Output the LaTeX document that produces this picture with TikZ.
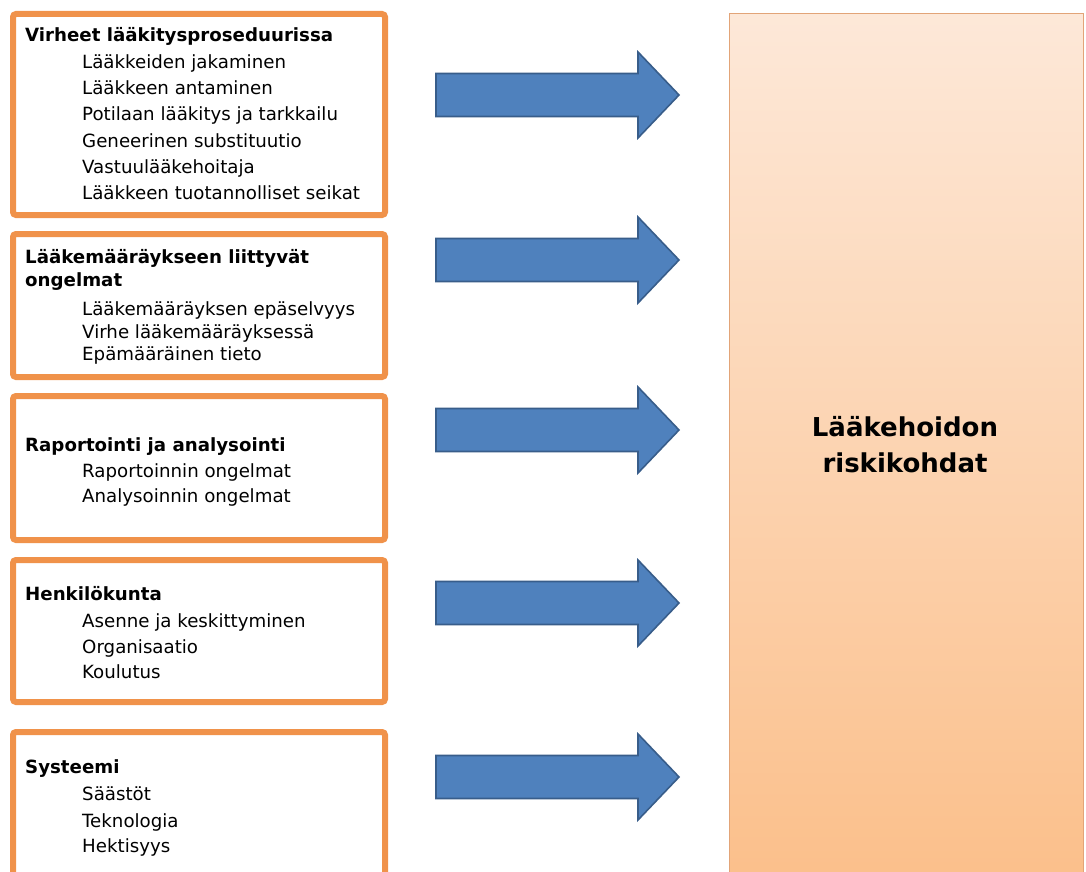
\documentclass[tikz,border=0pt]{standalone}
\usepackage{fontspec}
\setmainfont{DejaVu Sans}
\begin{document}
\begin{tikzpicture}[x=1pt,y=-1pt,
  catbox/.style={draw=boxorange,line width=6pt,rounded corners=3pt,fill=white,inner sep=0pt,minimum width=372pt},
  title/.style={anchor=base west,inner sep=0pt,font=\fontsize{18.2}{22}\selectfont\bfseries},
  item/.style={anchor=base west,inner sep=0pt,font=\fontsize{18.2}{22}\selectfont},
  blockarrow/.style={fill=arrowblue,draw=arrowedge,line width=1.6pt,line join=miter},
  bigtext/.style={align=center,inner sep=0pt,font=\fontsize{26}{36}\selectfont\bfseries}
]
\definecolor{boxorange}{HTML}{F0924A}
\definecolor{arrowblue}{HTML}{4F81BD}
\definecolor{arrowedge}{HTML}{385D8A}
\definecolor{peachtop}{HTML}{FDE8D8}
\definecolor{peachbot}{HTML}{FBBF8A}
\definecolor{peachedge}{HTML}{E2A478}
\useasboundingbox (0,0) rectangle (1086,872);
\clip (0,0) rectangle (1086,872);
\fill[white] (0,0) rectangle (1086,872);

% right target box
\shade[top color=peachtop,bottom color=peachbot,draw=peachedge,line width=1pt]
  (729,14) rectangle (1083,890);
\node[bigtext] (target) at (905,445) {Lääkehoidon\\riskikohdat};

% category boxes
\node[catbox,minimum height=201pt] (b1) at (199,114.5) {};
\node[catbox,minimum height=143pt] (b2) at (199,305.5) {};
\node[catbox,minimum height=144pt] (b3) at (199,468) {};
\node[catbox,minimum height=142pt] (b4) at (199,631) {};
\node[catbox,minimum height=150pt] (b5) at (199,807) {};

% box 1
\node[title] (t1) at (25,42) {Virheet lääkitysproseduurissa};
\node[item] (i11) at (82,69) {Lääkkeiden jakaminen};
\node[item] (i12) at (82,95) {Lääkkeen antaminen};
\node[item] (i13) at (82,121) {Potilaan lääkitys ja tarkkailu};
\node[item] (i14) at (82,147) {Geneerinen substituutio};
\node[item] (i15) at (82,173) {Vastuulääkehoitaja};
\node[item] (i16) at (82,199) {Lääkkeen tuotannolliset seikat};

% box 2
\node[title] (t2a) at (25,263) {Lääkemääräykseen liittyvät};
\node[title] (t2b) at (25,286) {ongelmat};
\node[item] (i21) at (82,315) {Lääkemääräyksen epäselvyys};
\node[item] (i22) at (82,338) {Virhe lääkemääräyksessä};
\node[item] (i23) at (82,360) {Epämääräinen tieto};

% box 3
\node[title] (t3) at (25,451) {Raportointi ja analysointi};
\node[item] (i31) at (82,477) {Raportoinnin ongelmat};
\node[item] (i32) at (82,502) {Analysoinnin ongelmat};

% box 4
\node[title] (t4) at (25,600) {Henkilökunta};
\node[item] (i41) at (82,627) {Asenne ja keskittyminen};
\node[item] (i42) at (82,653) {Organisaatio};
\node[item] (i43) at (82,678) {Koulutus};

% box 5
\node[title] (t5) at (25,773) {Systeemi};
\node[item] (i51) at (82,800) {Säästöt};
\node[item] (i52) at (82,827) {Teknologia};
\node[item] (i53) at (82,852) {Hektisyys};

% block arrows
\foreach \cy in {95,260,430,603,777}{
  \draw[blockarrow] (436,\cy-21.5) -- (638,\cy-21.5) -- (638,\cy-43) -- (679,\cy)
    -- (638,\cy+43) -- (638,\cy+21.5) -- (436,\cy+21.5) -- cycle;
}
\end{tikzpicture}
\end{document}
